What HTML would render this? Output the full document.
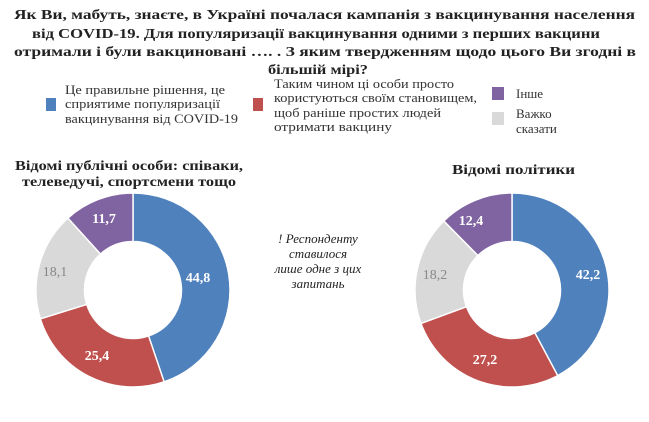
<!DOCTYPE html>
<html><head><meta charset="utf-8"><style>
body{margin:0;width:649px;height:422px;background:#fff;overflow:hidden;font-family:"Liberation Serif","DejaVu Serif",serif;}
svg{display:block}
</style></head><body>
<svg width="649" height="422" viewBox="0 0 649 422" font-family="Liberation Serif, DejaVu Serif, serif">
<g font-weight="bold" font-size="13.5" fill="#222">
<text x="14" y="19" textLength="621" lengthAdjust="spacingAndGlyphs">Як Ви, мабуть, знаєте, в Україні почалася кампанія з вакцинування населення</text>
<text x="32" y="38" textLength="568" lengthAdjust="spacingAndGlyphs">від COVID-19. Для популяризації вакцинування одними з перших вакцини</text>
<text x="14" y="56" textLength="622" lengthAdjust="spacingAndGlyphs">отримали і були вакциновані …. . З яким твердженням щодо цього Ви згодні в</text>
<text x="268" y="74" textLength="100" lengthAdjust="spacingAndGlyphs">більшій мірі?</text>
</g>
<g font-size="13" fill="#333">
<rect x="46" y="98" width="10" height="13" fill="#4f81bd"/>
<text x="65" y="94" textLength="160" lengthAdjust="spacingAndGlyphs">Це правильне рішення, це</text>
<text x="65" y="108" textLength="155" lengthAdjust="spacingAndGlyphs">сприятиме популяризації</text>
<text x="65" y="123" textLength="173" lengthAdjust="spacingAndGlyphs">вакцинування від COVID-19</text>
<rect x="253" y="98" width="10" height="13" fill="#c0504d"/>
<text x="274" y="88" textLength="180" lengthAdjust="spacingAndGlyphs">Таким чином ці особи просто</text>
<text x="274" y="102" textLength="203" lengthAdjust="spacingAndGlyphs">користуються своїм становищем,</text>
<text x="274" y="117" textLength="167" lengthAdjust="spacingAndGlyphs">щоб раніше простих людей</text>
<text x="274" y="131" textLength="118" lengthAdjust="spacingAndGlyphs">отримати вакцину</text>
<rect x="492" y="87" width="12" height="13" fill="#8064a2"/>
<text x="516" y="98">Інше</text>
<rect x="492" y="112" width="12" height="13" fill="#d9d9d9"/>
<text x="516" y="118">Важко</text>
<text x="516" y="133">сказати</text>
</g>
<g font-weight="bold" font-size="14" fill="#222">
<text x="15" y="170" textLength="228" lengthAdjust="spacingAndGlyphs">Відомі публічні особи: співаки,</text>
<text x="22" y="186" textLength="214" lengthAdjust="spacingAndGlyphs">телеведучі, спортсмени тощо</text>
<text x="452" y="174" textLength="123" lengthAdjust="spacingAndGlyphs">Відомі політики</text>
</g>
<g font-style="italic" font-size="13" text-anchor="middle" fill="#222">
<text x="318" y="243">! Респонденту</text>
<text x="318" y="258">ставилося</text>
<text x="318" y="273">лише одне з цих</text>
<text x="318" y="288">запитань</text>
</g>
<g id="d1" transform="translate(133,290) scale(97,97)"></g>
<g id="d2" transform="translate(512,290) scale(97,97)"></g>
<g font-weight="bold" font-size="14" text-anchor="middle" fill="#fff">
<text x="104" y="223">11,7</text>
<text x="55" y="276" fill="#888" font-weight="normal">18,1</text>
<text x="198" y="282">44,8</text>
<text x="97" y="360">25,4</text>
<text x="471" y="225">12,4</text>
<text x="435" y="279" fill="#888" font-weight="normal">18,2</text>
<text x="588" y="279">42,2</text>
<text x="485" y="364">27,2</text>
</g>
</svg>
<script>
function donut(id,vals){
 var cols=["#4f81bd","#c0504d","#d9d9d9","#8064a2"],g=document.getElementById(id),a=0,s="";
 var ri=0.5;
 vals.forEach(function(v,i){
  var a0=a/100*2*Math.PI,a1=(a+v)/100*2*Math.PI;a+=v;
  var P=function(r,t){return (r*Math.sin(t)).toFixed(4)+","+(-r*Math.cos(t)).toFixed(4)};
  var lg=v>50?1:0;
  s+='<path d="M'+P(1,a0)+' A1,1 0 '+lg+' 1 '+P(1,a1)+' L'+P(ri,a1)+' A'+ri+','+ri+' 0 '+lg+' 0 '+P(ri,a0)+'Z" fill="'+cols[i]+'" stroke="#fff" stroke-width="0.015"/>';
 });
 g.innerHTML=s;
}
donut("d1",[44.8,25.4,18.1,11.7]);
donut("d2",[42.2,27.2,18.2,12.4]);
</script>
</body></html>
